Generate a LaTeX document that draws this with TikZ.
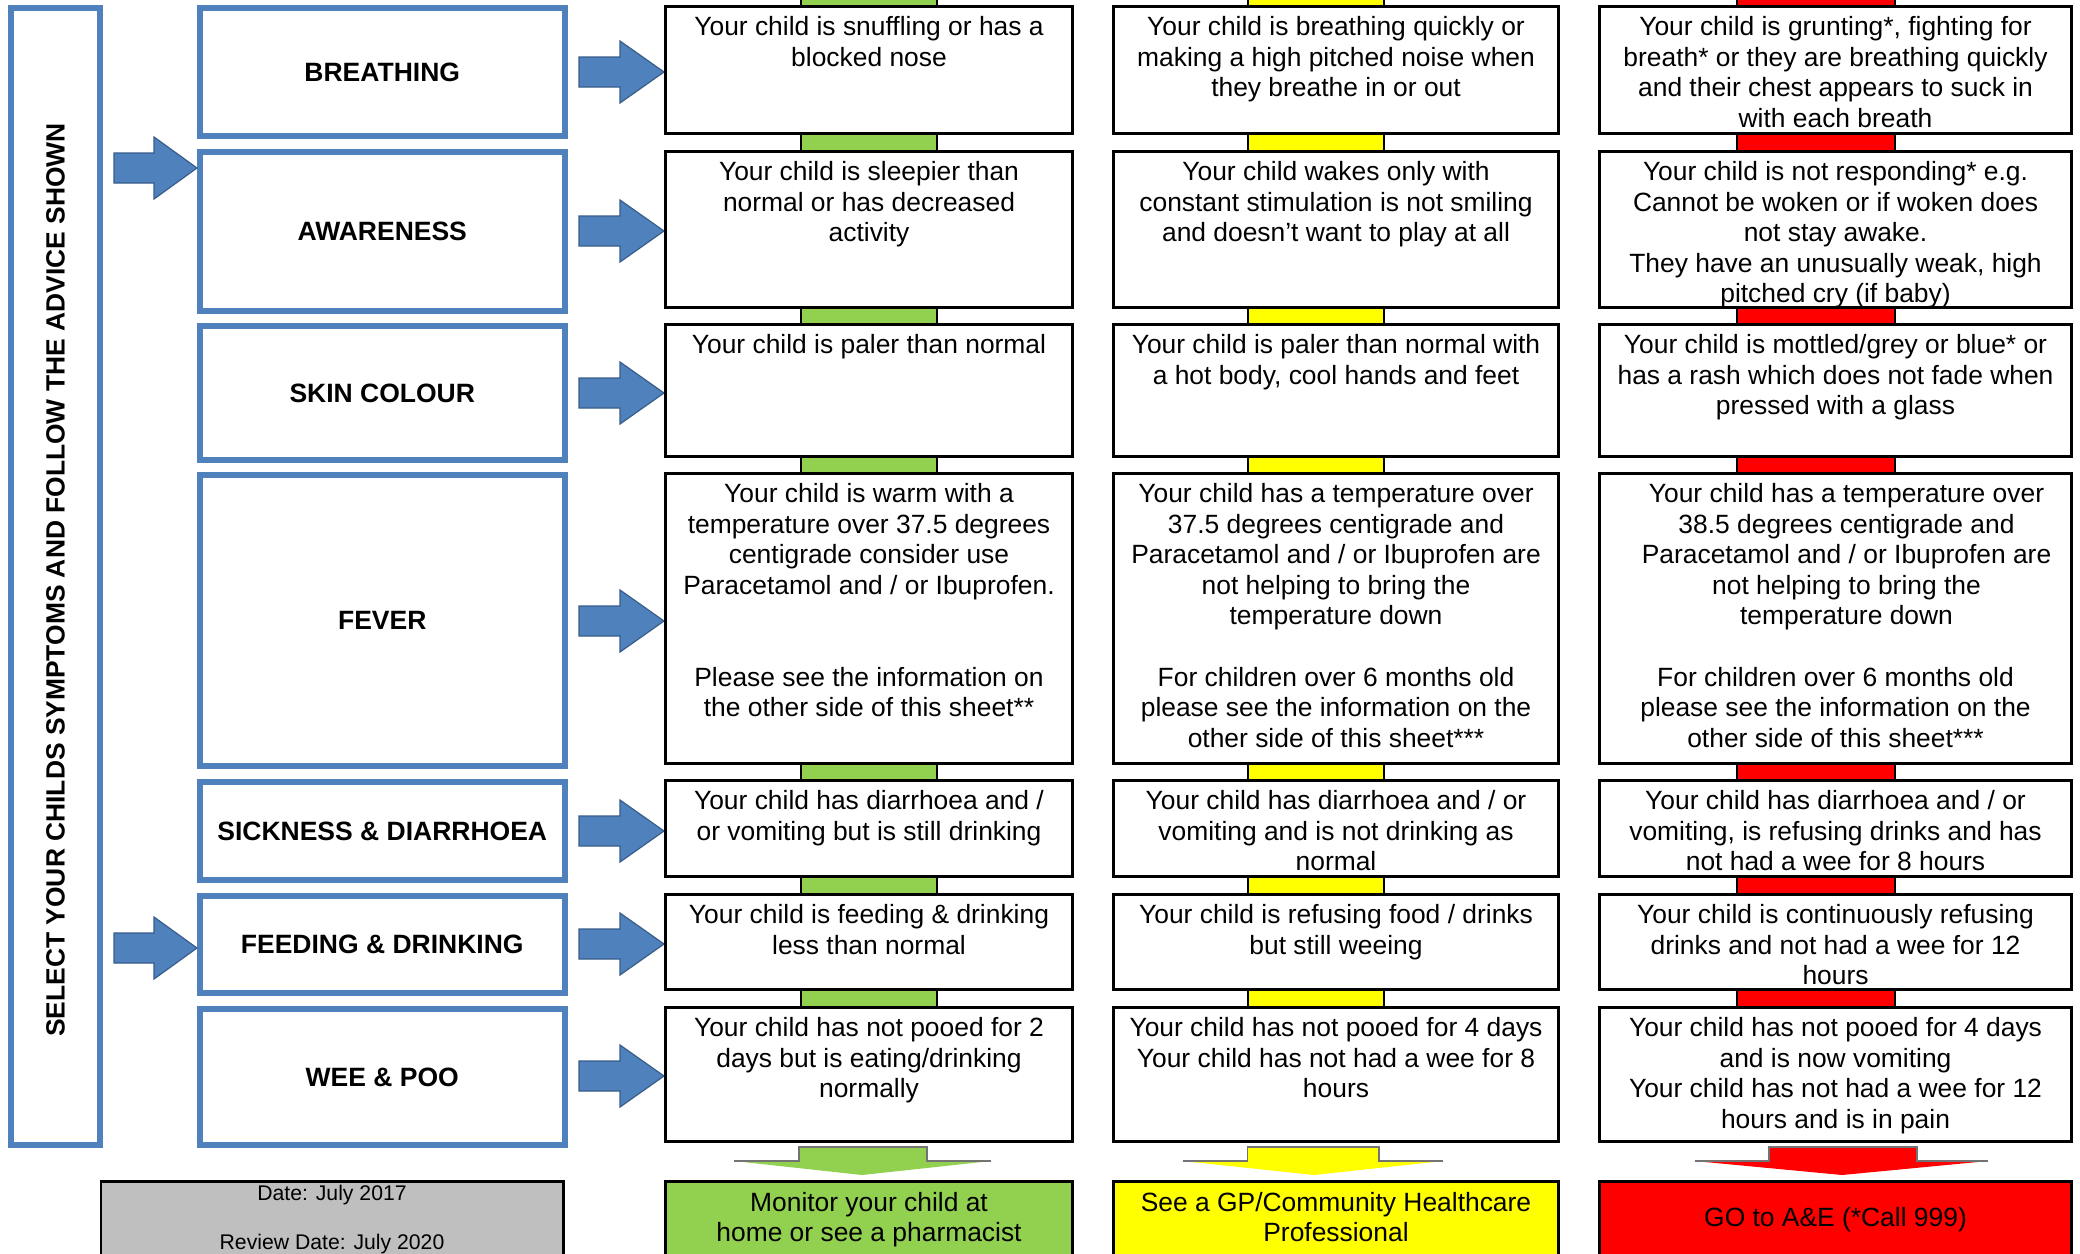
\documentclass[tikz,border=0pt]{standalone}
\usepackage{fontspec}
\setmainfont{Liberation Sans}
\definecolor{ublue}{HTML}{4F81BD}
\definecolor{ubluedark}{HTML}{385D8A}
\definecolor{cgreen}{HTML}{92D050}
\definecolor{cyellow}{HTML}{FFFF00}
\definecolor{cred}{HTML}{FF0000}
\definecolor{cgray}{HTML}{BFBFBF}
\newcommand\fl{\rule{0pt}{10pt}}
\newcommand\mkbox[7]{\node[#6, minimum width={(#4-#2)*0.5pt}, minimum height={(#5-#3)*0.5pt}] (#1) at ({(#2+#4)/2},{(#3+#5)/2}) {#7};}
\newcommand\rarrow[4]{\filldraw[barrow] (#1,#4-15) -- (#2,#4-15) -- (#2,#4-31) -- (#3,#4) -- (#2,#4+31) -- (#2,#4+15) -- (#1,#4+15) -- cycle;}
\newcommand\darrow[6]{\fill[#6] (#1,1147) -- (#2,1147) -- (#2,1161) -- (#4,1161) -- (#5,1175) -- (#3,1161) -- (#1,1161) -- cycle;
\draw[darrowline] (#3,1161) -- (#1,1161) -- (#1,1147) -- (#2,1147) -- (#2,1161) -- (#4,1161);}
\newcommand\mkbar[4]{\filldraw[barstyle, fill=#4] (#1,#2) rectangle (#3,#2+17);}
\tikzset{
  catbox/.style={draw=ublue, line width=3pt, fill=white, inner sep=0pt, font=\bfseries\fontsize{13.25}{15}\selectfont},
  wbox/.style={draw=black, line width=1.3pt, fill=white, inner sep=0pt},
  cbox/.style={draw=black, line width=1.3pt, inner sep=0pt},
  barstyle/.style={draw=black, line width=0.6pt},
  txt/.style={inner sep=0pt, align=center, anchor=north, font=\fontsize{13.2}{15.3}\selectfont},
  btxt/.style={inner sep=0pt, anchor=base, font=\fontsize{13.2}{15.3}\selectfont},
  dtxt/.style={inner sep=0pt, anchor=base, font=\fontsize{10.6}{12}\selectfont},
  barrow/.style={fill=ublue, draw=ubluedark, line width=0.6pt, line join=miter},
  darrowline/.style={draw=black!55, line width=0.8pt}
}
\begin{document}
\begin{tikzpicture}[x=0.5pt,y=-0.5pt]
\useasboundingbox (0,0) rectangle (2080,1253);
\clip (0,0) rectangle (2080,1253);
\fill[white] (0,0) rectangle (2080,1253);

% connecting bars
\foreach \yy in {-11,134,308,457,764,877,990}{
  \mkbar{801}{\yy}{937}{cgreen}
  \mkbar{1248}{\yy}{1384}{cyellow}
  \mkbar{1737}{\yy}{1895}{cred}
}

% left tall box
\mkbox{sel}{11}{8}{100}{1145}{catbox}{}
\node[rotate=90, inner sep=0pt, font=\bfseries\fontsize{13.2}{15}\selectfont] (seltxt) at (55.5,580) {SELECT YOUR CHILDS SYMPTOMS AND FOLLOW THE ADVICE SHOWN};

% category boxes
\mkbox{c1}{200}{8}{564.5}{136}{catbox}{BREATHING}
\mkbox{c2}{200}{152}{564.5}{311}{catbox}{AWARENESS}
\mkbox{c3}{200}{326}{564.5}{460}{catbox}{SKIN COLOUR}
\mkbox{c4}{200}{475}{564.5}{766}{catbox}{FEVER}
\mkbox{c5}{200}{782}{564.5}{880}{catbox}{SICKNESS \& DIARRHOEA}
\mkbox{c6}{200}{896}{564.5}{993}{catbox}{FEEDING \& DRINKING}
\mkbox{c7}{200}{1009}{564.5}{1145}{catbox}{WEE \& POO}

% left arrows
\rarrow{114}{154}{197}{168}
\rarrow{114}{154}{197}{948}

% right arrows
\foreach \cy in {72,231,393,621,831,944,1076}{\rarrow{579}{620}{664}{\cy}}

% symptom boxes: green
\mkbox{g1}{665.3}{6.3}{1072.7}{133.7}{wbox}{}
\mkbox{g2}{665.3}{151.3}{1072.7}{307.7}{wbox}{}
\mkbox{g3}{665.3}{324.3}{1072.7}{456.7}{wbox}{}
\mkbox{g4}{665.3}{473.3}{1072.7}{763.7}{wbox}{}
\mkbox{g5}{665.3}{780.3}{1072.7}{876.7}{wbox}{}
\mkbox{g6}{665.3}{894.3}{1072.7}{989.7}{wbox}{}
\mkbox{g7}{665.3}{1007.3}{1072.7}{1141.7}{wbox}{}
% yellow
\mkbox{y1}{1113.3}{6.3}{1558.7}{133.7}{wbox}{}
\mkbox{y2}{1113.3}{151.3}{1558.7}{307.7}{wbox}{}
\mkbox{y3}{1113.3}{324.3}{1558.7}{456.7}{wbox}{}
\mkbox{y4}{1113.3}{473.3}{1558.7}{763.7}{wbox}{}
\mkbox{y5}{1113.3}{780.3}{1558.7}{876.7}{wbox}{}
\mkbox{y6}{1113.3}{894.3}{1558.7}{989.7}{wbox}{}
\mkbox{y7}{1113.3}{1007.3}{1558.7}{1141.7}{wbox}{}
% red
\mkbox{r1}{1599.3}{6.3}{2071.7}{133.7}{wbox}{}
\mkbox{r2}{1599.3}{151.3}{2071.7}{307.7}{wbox}{}
\mkbox{r3}{1599.3}{324.3}{2071.7}{456.7}{wbox}{}
\mkbox{r4}{1599.3}{473.3}{2071.7}{763.7}{wbox}{}
\mkbox{r5}{1599.3}{780.3}{2071.7}{876.7}{wbox}{}
\mkbox{r6}{1599.3}{894.3}{2071.7}{989.7}{wbox}{}
\mkbox{r7}{1599.3}{1007.3}{2071.7}{1141.7}{wbox}{}

% texts green column
\node[txt] (tg1) at (869,15) {\fl Your child is snuffling or has a\\blocked nose};
\node[txt] (tg2) at (869,160) {\fl Your child is sleepier than\\normal or has decreased\\activity};
\node[txt] (tg3) at (869,333) {\fl Your child is paler than normal};
\node[txt] (tg4) at (869,482) {\fl Your child is warm with a\\temperature over 37.5 degrees\\centigrade consider use\\Paracetamol and / or Ibuprofen.\\[30.6pt]Please see the information on\\the other side of this sheet**};
\node[txt] (tg5) at (869,789) {\fl Your child has diarrhoea and /\\or vomiting but is still drinking};
\node[txt] (tg6) at (869,903) {\fl Your child is feeding \& drinking\\less than normal};
\node[txt] (tg7) at (869,1016) {\fl Your child has not pooed for 2\\days but is eating/drinking\\normally};

% texts yellow column
\node[txt] (ty1) at (1336,15) {\fl Your child is breathing quickly or\\making a high pitched noise when\\they breathe in or out};
\node[txt] (ty2) at (1336,160) {\fl Your child wakes only with\\constant stimulation is not smiling\\and doesn’t want to play at all};
\node[txt] (ty3) at (1336,333) {\fl Your child is paler than normal with\\a hot body, cool hands and feet};
\node[txt] (ty4) at (1336,482) {\fl Your child has a temperature over\\37.5 degrees centigrade and\\Paracetamol and / or Ibuprofen are\\not helping to bring the\\temperature down\\[15.3pt]For children over 6 months old\\please see the information on the\\other side of this sheet***};
\node[txt] (ty5) at (1336,789) {\fl Your child has diarrhoea and / or\\vomiting and is not drinking as\\normal};
\node[txt] (ty6) at (1336,903) {\fl Your child is refusing food / drinks\\but still weeing};
\node[txt] (ty7) at (1336,1016) {\fl Your child has not pooed for 4 days\\Your child has not had a wee for 8\\hours};

% texts red column
\node[txt] (tr1) at (1835.5,15) {\fl Your child is grunting*, fighting for\\breath* or they are breathing quickly\\and their chest appears to suck in\\with each breath};
\node[txt] (tr2) at (1835.5,160) {\fl Your child is not responding* e.g.\\Cannot be woken or if woken does\\not stay awake.\\They have an unusually weak, high\\pitched cry (if baby)};
\node[txt] (tr3) at (1835.5,333) {\fl Your child is mottled/grey or blue* or\\has a rash which does not fade when\\pressed with a glass};
\node[txt] (tr4) at (1835.5,482) {\fl\hspace*{11pt}Your child has a temperature over\\\hspace*{11pt}38.5 degrees centigrade and\\\hspace*{11pt}Paracetamol and / or Ibuprofen are\\\hspace*{11pt}not helping to bring the\\\hspace*{11pt}temperature down\\[15.3pt]For children over 6 months old\\please see the information on the\\other side of this sheet***};
\node[txt] (tr5) at (1835.5,789) {\fl Your child has diarrhoea and / or\\vomiting, is refusing drinks and has\\not had a wee for 8 hours};
\node[txt] (tr6) at (1835.5,903) {\fl Your child is continuously refusing\\drinks and not had a wee for 12\\hours};
\node[txt] (tr7) at (1835.5,1016) {\fl Your child has not pooed for 4 days\\and is now vomiting\\Your child has not had a wee for 12\\hours and is in pain};

% down arrows
\darrow{799}{927}{734}{991}{862}{cgreen}
\darrow{1247.5}{1379}{1182.6}{1443}{1314}{cyellow}
\darrow{1769}{1917}{1694.5}{1988}{1842}{cred}

% bottom boxes
\mkbox{dbox}{100.8}{1181.3}{563.7}{1300}{cbox, fill=cgray}{}
\mkbox{gout}{665.3}{1181.3}{1072.7}{1300}{cbox, fill=cgreen}{}
\mkbox{yout}{1113.3}{1181.3}{1558.7}{1300}{cbox, fill=cyellow}{}
\mkbox{rout}{1599.3}{1181.3}{2071.7}{1300}{cbox, fill=cred}{}

\node[dtxt] (d1) at (332,1200) {Date: July 2017};
\node[dtxt] (d2) at (332,1249) {Review Date: July 2020};
\node[btxt] (go1) at (869,1211.7) {Monitor your child at};
\node[btxt] (go2) at (869,1241.7) {home or see a pharmacist};
\node[btxt] (yo1) at (1336,1211.7) {See a GP/Community Healthcare};
\node[btxt] (yo2) at (1336,1241.7) {Professional};
\node[btxt] (ro1) at (1835.5,1226.7) {GO to A\&E (*Call 999)};
\end{tikzpicture}
\end{document}
